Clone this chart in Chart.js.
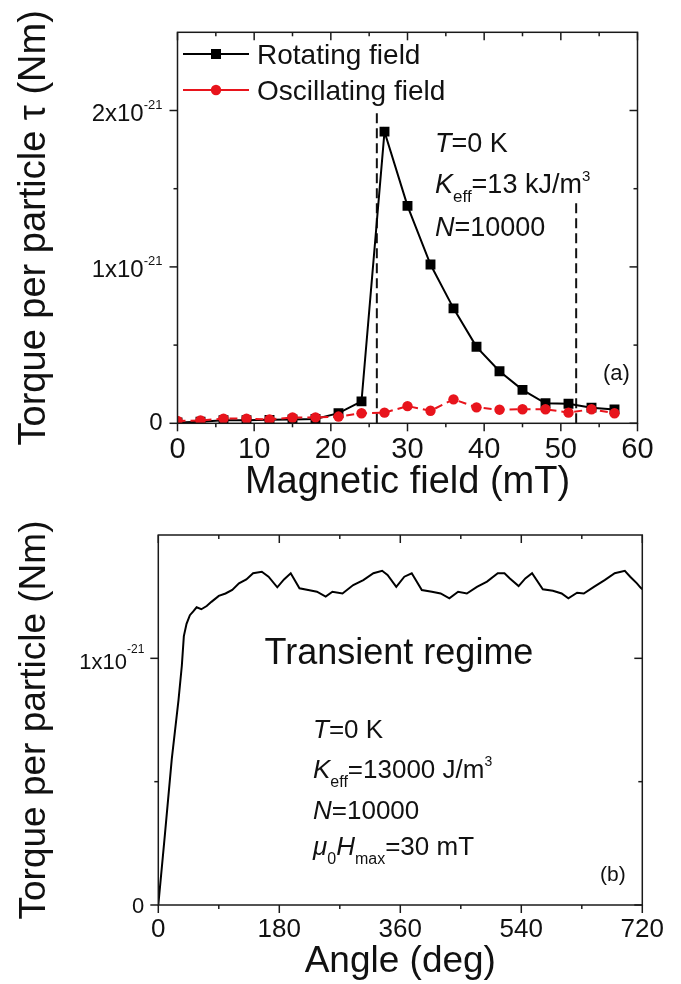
<!DOCTYPE html>
<html>
<head>
<meta charset="utf-8">
<script src="https://cdn.jsdelivr.net/npm/chart.js@4.4.0/dist/chart.umd.min.js"></script>
<style>
  html, body { margin: 0; padding: 0; background: #fff; }
  #boxA { position: absolute; left: 0; top: 0; }
  #boxB { position: absolute; left: 0; top: 505px; }
</style>
</head>
<body>
<div id="boxA"><canvas id="chartA" width="681" height="505"></canvas></div>
<div id="boxB"><canvas id="chartB" width="681" height="479"></canvas></div>
<script>
// ---- panel (a) data, torque in units of 1e-21 Nm ----
const fieldMT = [0, 3, 6, 9, 12, 15, 18, 21, 24, 27, 30, 33, 36, 39, 42, 45, 48, 51, 54, 57];
const torqueRotating = [0.005, 0.01, 0.02, 0.02, 0.022, 0.025, 0.028, 0.065, 0.14, 1.865, 1.39, 1.015, 0.735, 0.489, 0.333, 0.214, 0.128, 0.125, 0.1, 0.089];
const torqueOscillating = [0.015, 0.018, 0.03, 0.03, 0.025, 0.037, 0.038, 0.043, 0.064, 0.068, 0.11, 0.08, 0.153, 0.102, 0.087, 0.09, 0.09, 0.068, 0.09, 0.064];
const guideX = [26, 52];
const guideTop = [2.0, 1.42];
const xTicksA = [0, 10, 20, 30, 40, 50, 60];
const xMinorA = [5, 15, 25, 35, 45, 55];
const yTicksA = [0, 1, 2];
const yMinorA = [0.5, 1.5];

// ---- panel (b) data ----
const angleDeg = [0, 10, 20, 30, 35, 38, 42, 47, 52, 57, 64, 72, 79, 90, 100, 110, 120, 131, 141, 154, 164, 177, 187, 197, 210, 223, 236, 249, 259, 274, 290, 305, 320, 333, 341, 354, 366, 377, 392, 407, 420, 433, 446, 459, 474, 489, 505, 515, 523, 536, 546, 556, 572, 587, 600, 610, 623, 633, 648, 664, 679, 694, 702, 712, 717, 720];
const torqueTransient = [0, 0.29, 0.59, 0.83, 0.97, 1.09, 1.14, 1.175, 1.19, 1.207, 1.199, 1.212, 1.229, 1.253, 1.263, 1.277, 1.304, 1.32, 1.345, 1.351, 1.331, 1.288, 1.32, 1.345, 1.284, 1.277, 1.27, 1.25, 1.27, 1.263, 1.297, 1.317, 1.345, 1.355, 1.338, 1.29, 1.331, 1.345, 1.277, 1.27, 1.263, 1.243, 1.27, 1.263, 1.29, 1.311, 1.345, 1.345, 1.324, 1.293, 1.324, 1.345, 1.28, 1.274, 1.263, 1.243, 1.266, 1.263, 1.29, 1.317, 1.345, 1.355, 1.331, 1.304, 1.288, 1.28];
const xTicksB = [0, 180, 360, 540, 720];
const xMinorB = [90, 270, 450, 630];
const yTicksB = [0, 1];
const yMinorB = [0.5];

const FONT = '"Liberation Sans", Arial, Helvetica, sans-serif';
const INK = '#111';
const RED = '#e8141c';

function drawRich(ctx, x, y, parts, size) {
  let cx = x;
  parts.forEach(([text, kind]) => {
    let fs = size, dy = 0, st = '';
    if (kind === 'i') st = 'italic ';
    if (kind === 'sub') { fs = Math.round(size * 0.62); dy = size * 0.34; }
    if (kind === 'sup') { fs = Math.round(size * 0.55); dy = -size * 0.45; }
    ctx.font = st + fs + 'px ' + FONT;
    ctx.fillText(text, cx, y + dy);
    cx += ctx.measureText(text).width;
  });
  return cx;
}

// frame, mirrored ticks and y labels with exponent
const framePlugin = {
  id: 'frame',
  afterDraw(chart, args, o) {
    const { ctx, chartArea: a } = chart;
    const xs = chart.scales.x, ys = chart.scales.y;
    ctx.save();
    ctx.strokeStyle = '#1a1a1a';
    ctx.lineWidth = 1.5;
    ctx.strokeRect(a.left, a.top, a.right - a.left, a.bottom - a.top);
    const seg = (x1, y1, x2, y2) => { ctx.beginPath(); ctx.moveTo(x1, y1); ctx.lineTo(x2, y2); ctx.stroke(); };
    [[o.xMajor, 8], [o.xMinor, 4]].forEach(([vals, len]) => vals.forEach(v => {
      const px = xs.getPixelForValue(v);
      seg(px, a.bottom, px, a.bottom + len);
      seg(px, a.top, px, a.top + len);
    }));
    [[o.yMajor, 8], [o.yMinor, 4]].forEach(([vals, len]) => vals.forEach(v => {
      const py = ys.getPixelForValue(v);
      seg(a.left - len, py, a.left, py);
      seg(a.right - len, py, a.right, py);
    }));
    ctx.fillStyle = INK;
    ctx.textAlign = 'right';
    ctx.textBaseline = 'alphabetic';
    const right = a.left - o.gap;
    o.yMajor.forEach(v => {
      const py = ys.getPixelForValue(v);
      if (v === 0) {
        ctx.font = o.size + 'px ' + FONT;
        ctx.fillText('0', right, py + o.dy0);
        return;
      }
      ctx.font = o.supSize + 'px ' + FONT;
      ctx.fillText('-21', right, py + o.dy - o.raise);
      const w = ctx.measureText('-21').width;
      ctx.font = o.size + 'px ' + FONT;
      ctx.fillText(v + 'x10', right - w, py + o.dy);
    });
    ctx.restore();
  }
};

const notesA = {
  id: 'notesA',
  afterDraw(chart) {
    const ctx = chart.ctx;
    ctx.save();
    ctx.fillStyle = INK;
    ctx.textAlign = 'left';
    ctx.textBaseline = 'alphabetic';
    // legend
    const rows = [[0, 54], [1, 90]];
    rows.forEach(([i, yy]) => {
      const ds = chart.data.datasets[i];
      ctx.strokeStyle = ds.borderColor;
      ctx.lineWidth = 2;
      ctx.setLineDash([]);
      ctx.beginPath(); ctx.moveTo(183, yy); ctx.lineTo(249, yy); ctx.stroke();
      ctx.fillStyle = ds.borderColor;
      if (ds.pointStyle === 'rect') {
        ctx.fillRect(211, yy - 5, 10, 10);
      } else {
        ctx.beginPath(); ctx.arc(216, yy, 5.2, 0, Math.PI * 2); ctx.fill();
      }
      ctx.fillStyle = INK;
      ctx.font = '28px ' + FONT;
      ctx.fillText(ds.label, 257, yy + 10);
    });
    drawRich(ctx, 435, 152, [['T', 'i'], ['=0 K', 'n']], 27);
    drawRich(ctx, 435, 193, [['K', 'i'], ['eff', 'sub'], ['=13 kJ/m', 'n'], ['3', 'sup']], 27);
    drawRich(ctx, 435, 236, [['N', 'i'], ['=10000', 'n']], 27);
    ctx.font = '22px ' + FONT;
    ctx.fillText('(a)', 603, 380);
    ctx.restore();
  }
};

const notesB = {
  id: 'notesB',
  afterDraw(chart) {
    const ctx = chart.ctx;
    ctx.save();
    ctx.fillStyle = INK;
    ctx.textBaseline = 'alphabetic';
    ctx.textAlign = 'center';
    ctx.font = '36px ' + FONT;
    ctx.fillText('Transient regime', 399, 159);
    ctx.textAlign = 'left';
    drawRich(ctx, 313, 233, [['T', 'i'], ['=0 K', 'n']], 26);
    drawRich(ctx, 313, 273, [['K', 'i'], ['eff', 'sub'], ['=13000 J/m', 'n'], ['3', 'sup']], 26);
    drawRich(ctx, 313, 314, [['N', 'i'], ['=10000', 'n']], 26);
    drawRich(ctx, 313, 350, [['μ', 'i'], ['0', 'sub'], ['H', 'i'], ['max', 'sub'], ['=30 mT', 'n']], 26);
    ctx.font = '21px ' + FONT;
    ctx.fillText('(b)', 600, 376);
    ctx.restore();
  }
};

function axisX(min, max, ticksArr, tickSize, title, titleSize, pad, boxH) {
  return {
    type: 'linear', min: min, max: max,
    afterBuildTicks: s => { s.ticks = ticksArr.map(v => ({ value: v })); },
    afterFit: s => { s.height = boxH; },
    grid: { display: false, drawTicks: false },
    border: { display: false },
    ticks: { padding: pad, color: INK, maxRotation: 0, font: { family: FONT, size: tickSize } },
    title: { display: true, text: title, color: INK, font: { family: FONT, size: titleSize }, padding: 0 }
  };
}
function axisY(min, max, title, titleSize, padTop, boxW) {
  return {
    type: 'linear', min: min, max: max,
    afterFit: s => { s.width = boxW; },
    grid: { display: false, drawTicks: false },
    border: { display: false },
    ticks: { display: false },
    title: { display: true, text: title, color: INK, font: { family: FONT, size: titleSize }, padding: { top: padTop, bottom: 0 } }
  };
}

const pts = (xs, ys) => xs.map((v, i) => ({ x: v, y: ys[i] }));

new Chart(document.getElementById('chartA'), {
  type: 'line',
  data: {
    datasets: [
      {
        label: 'Rotating field', data: pts(fieldMT, torqueRotating), order: 2,
        borderColor: '#000', backgroundColor: '#000', borderWidth: 2,
        pointStyle: 'rect', pointRadius: 7, pointBorderWidth: 0, pointBackgroundColor: '#000'
      },
      {
        label: 'Oscillating field', data: pts(fieldMT, torqueOscillating), order: 1,
        borderColor: RED, backgroundColor: RED, borderWidth: 2, borderDash: [8, 5],
        pointStyle: 'circle', pointRadius: 5.2, pointBorderWidth: 0, pointBackgroundColor: RED
      },
      {
        label: 'guide1', data: [{ x: guideX[0], y: 0 }, { x: guideX[0], y: guideTop[0] }], order: 3,
        borderColor: '#111', borderWidth: 2, borderDash: [10, 5], pointRadius: 0
      },
      {
        label: 'guide2', data: [{ x: guideX[1], y: 0 }, { x: guideX[1], y: guideTop[1] }], order: 3,
        borderColor: '#111', borderWidth: 2, borderDash: [10, 5], pointRadius: 0
      }
    ]
  },
  options: {
    responsive: false, animation: false,
    layout: { padding: { top: 32.3, right: 43.5, left: 0, bottom: 0 } },
    plugins: {
      legend: { display: false }, tooltip: { enabled: false },
      frame: { xMajor: xTicksA, xMinor: xMinorA, yMajor: yTicksA, yMinor: yMinorA,
               gap: 15, size: 24, supSize: 13, raise: 12, dy: 10, dy0: 7 }
    },
    scales: {
      x: axisX(0, 60, xTicksA, 29, 'Magnetic field (mT)', 38, 9, 505 - 423.3),
      y: axisY(0, 2.5, 'Torque per particle τ (Nm)', 38, 12, 177.5)
    }
  },
  plugins: [framePlugin, notesA]
});

new Chart(document.getElementById('chartB'), {
  type: 'line',
  data: {
    datasets: [{
      label: 'Transient', data: pts(angleDeg, torqueTransient),
      borderColor: '#000', borderWidth: 2, pointRadius: 0, tension: 0
    }]
  },
  options: {
    responsive: false, animation: false,
    layout: { padding: { top: 30, right: 38.7, left: 0, bottom: 0 } },
    plugins: {
      legend: { display: false }, tooltip: { enabled: false },
      frame: { xMajor: xTicksB, xMinor: xMinorB, yMajor: yTicksB, yMinor: yMinorB,
               gap: 14, size: 22, supSize: 12, raise: 16, dy: 11, dy0: 8 }
    },
    scales: {
      x: axisX(0, 720, xTicksB, 26, 'Angle (deg)', 37, 9, 479 - 400),
      y: axisY(0, 1.5, 'Torque per particle (Nm)', 37, 13, 158.3)
    }
  },
  plugins: [framePlugin, notesB]
});
</script>
</body>
</html>
